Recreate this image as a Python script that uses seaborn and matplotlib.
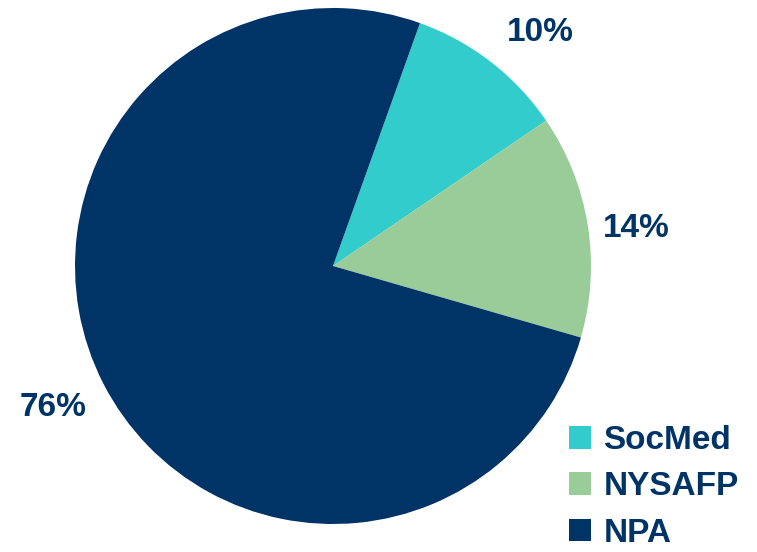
import matplotlib
matplotlib.use("Agg")
import matplotlib.pyplot as plt
from matplotlib.patches import Patch
import seaborn as sns

# Share of respondents by recruitment source
sources = ["SocMed", "NYSAFP", "NPA"]
shares = [10, 14, 76]
colors = ["#33CCCC", "#99CC99", "#003366"]
text_color = "#003366"

sns.set_theme(style="white")
plt.rcParams["font.family"] = ["Liberation Sans", "DejaVu Sans"]

W, H = 757, 552
fig = plt.figure(figsize=(W / 100, H / 100), dpi=100)
fig.patch.set_facecolor("white")

cx, cy, r = 333, 266, 258
ax = fig.add_axes([(cx - r) / W, (H - cy - r) / H, 2 * r / W, 2 * r / H])

wedges, _ = ax.pie(
    shares,
    colors=sns.color_palette(colors),
    startangle=70.3,
    counterclock=False,
    radius=1.0,
    wedgeprops=dict(linewidth=0),
)
ax.set_xlim(-1, 1)
ax.set_ylim(-1, 1)
ax.set_aspect("equal")
ax.axis("off")

# percentage labels placed outside the wedges
label_xy = [(0.805, 0.905), (1.175, 0.145), (-1.085, -0.55)]
for v, (x, y) in zip(shares, label_xy):
    ax.text(x, y, f"{v}%", ha="center", va="center", fontsize=24,
            fontweight="bold", color=text_color, clip_on=False)

handles = [Patch(facecolor=c, edgecolor="none") for c in colors]
leg = fig.legend(
    handles, sources,
    loc="upper left",
    bbox_to_anchor=(569 / W, 1 - 425 / H),
    frameon=False,
    fontsize=24,
    handlelength=0.67,
    handleheight=0.67,
    handletextpad=0.36,
    labelspacing=0.46,
    borderpad=0,
    borderaxespad=0,
)
for t in leg.get_texts():
    t.set_color(text_color)
    t.set_fontweight("bold")

fig.savefig("out.png", dpi=100, facecolor="white")
